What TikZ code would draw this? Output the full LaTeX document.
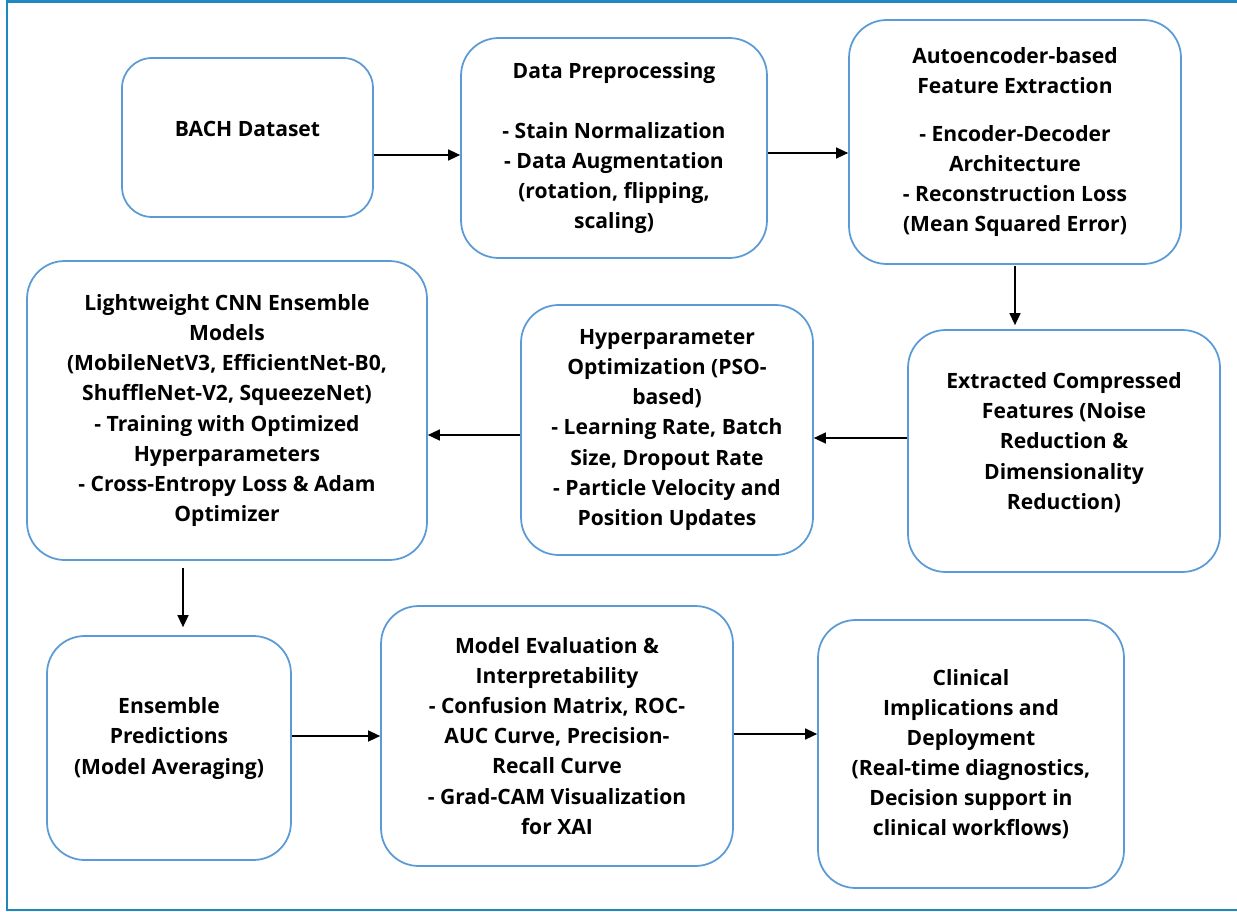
\documentclass[tikz,border=0pt]{standalone}
\usepackage{fontspec}
\setmainfont{Open Sans}
\usepackage{xcolor}
\usetikzlibrary{arrows.meta}
\definecolor{boxblue}{RGB}{91,155,213}
\definecolor{frameblue}{RGB}{30,136,192}

\begin{document}
\begin{tikzpicture}[x=0.02cm, y=-0.02cm,
    stage/.style={draw=boxblue, line width=1pt, rounded corners=0.75cm, align=center, inner sep=0pt,
      font=\bfseries\fontsize{12}{17.1}\selectfont},
    flow/.style={-{Triangle[length=2.4mm,width=2.2mm]}, line width=0.8pt}]
	\useasboundingbox (0,0) rectangle (1237,912);
	\draw[frameblue, line width=1.4pt] (1237,1.5) -- (7,1.5) -- (7,910) -- (1237,910);
	% top row
	\node[stage, rounded corners=0.6cm, minimum width=5.02cm, minimum height=3.18cm] (bach) at (247.5,137.5) {BACH Dataset\\[-0.24cm]};
	\node[stage, minimum width=6.12cm, minimum height=4.4cm] (prep) at (614,148) {Data Preprocessing\\[0.6cm]
		- Stain Normalization\\ - Data Augmentation\\ (rotation, flipping,\\ scaling)};
	\node[stage, minimum width=6.64cm, minimum height=4.88cm] (auto) at (1015,142) {Autoencoder-based\\ Feature Extraction\\[0.36cm]
		- Encoder-Decoder\\ Architecture\\ - Reconstruction Loss\\ (Mean Squared Error)};
	% middle row
	\node[stage, minimum width=6.24cm, minimum height=4.84cm] (feat) at (1064,451) {Extracted Compressed\\ Features (Noise\\
		Reduction \&\\ Dimensionality\\ Reduction)\\[-0.2cm]};
	\node[stage, minimum width=5.84cm, minimum height=5cm] (hyper) at (667,430) {Hyperparameter\\ Optimization (PSO-\\ based)\\
		- Learning Rate, Batch\\ Size, Dropout Rate\\ - Particle Velocity and\\ Position Updates};
	\node[stage, minimum width=8cm, minimum height=5.98cm] (cnn) at (227,410.5) {Lightweight CNN Ensemble\\ Models\\
		(MobileNetV3, EfficientNet-B0,\\ ShuffleNet-V2, SqueezeNet)\\ - Training with Optimized\\ Hyperparameters\\
		- Cross-Entropy Loss \& Adam\\ Optimizer};
	% bottom row
	\node[stage, minimum width=4.88cm, minimum height=4.48cm] (ens) at (169,748) {Ensemble\\ Predictions\\ (Model Averaging)\\[-0.12cm]};
	\node[stage, minimum width=7.04cm, minimum height=5.2cm] (eval) at (557,736) {Model Evaluation \&\\ Interpretability\\
		- Confusion Matrix, ROC-\\ AUC Curve, Precision-\\ Recall Curve\\ - Grad-CAM Visualization\\ for XAI};
	\node[stage, minimum width=6.12cm, minimum height=5.36cm] (clin) at (971,754) {Clinical\\ Implications and\\ Deployment\\
		(Real-time diagnostics,\\ Decision support in\\ clinical workflows)};
	% arrows
	\draw[flow] ([yshift=-0.35cm]bach.east) -- ([yshift=-0.35cm]bach.east -| prep.west);
	\draw[flow] ([yshift=-0.1cm]prep.east) -- ([yshift=-0.1cm]prep.east -| auto.west);
	\draw[flow] ([yshift=-0.02cm]auto.south) -- ([yshift=0.08cm]auto.south |- feat.north);
	\draw[flow] ([yshift=0.26cm]feat.west) -- ([yshift=0.26cm]feat.west -| hyper.east);
	\draw[flow] ([yshift=-0.1cm]hyper.west) -- ([yshift=-0.1cm]hyper.west -| cnn.east);
	\draw[flow] ([xshift=-0.88cm,yshift=-0.14cm]cnn.south) -- ([xshift=-0.88cm,yshift=0.16cm]cnn.south |- ens.north);
	\draw[flow] ([yshift=0.24cm]ens.east) -- ([yshift=0.24cm]ens.east -| eval.west);
	\draw[flow] ([yshift=0.04cm]eval.east) -- ([yshift=0.04cm]eval.east -| clin.west);
\end{tikzpicture}
\end{document}
